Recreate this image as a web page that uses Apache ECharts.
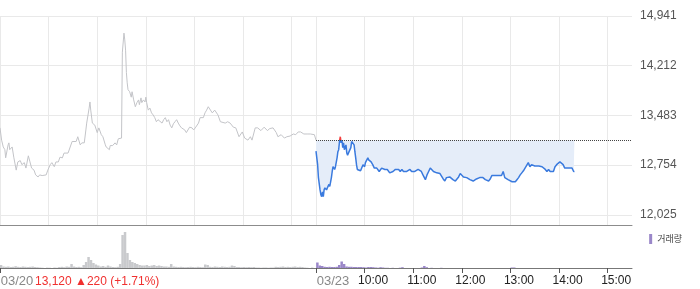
<!DOCTYPE html>
<html>
<head>
<meta charset="utf-8">
<script src="https://cdn.jsdelivr.net/npm/echarts@6/dist/echarts.min.js"></script>
<style>
html,body{margin:0;padding:0;background:#fff;}
#chart{width:700px;height:289px;}
</style>
</head>
<body>
<div id="chart"></div>
<script>
// minutes since 09:00 of each session, price (KRW)
const prevClose = 13120;
const yTicks = [12025, 12754, 13483, 14212, 14941];
const sessionLen = 390; // 09:00-15:30
const day1Label = '03/20';
const day2Label = '03/23';
const hourLabels = ['10:00', '11:00', '12:00', '13:00', '14:00', '15:00'];
const infoText = '13,120 \u25B2220 (+1.71%)';

const day1 = [[0,13300],[2,13120],[4,13020],[6,12980],[7,12860],[10,13050],[11,13080],[12,12980],[15,13020],[17,12870],[20,12680],[22,12800],[25,12820],[27,12760],[30,12790],[32,12710],[35,12890],[37,12800],[39,12710],[42,12680],[44,12610],[47,12580],[49,12610],[52,12600],[54,12600],[57,12610],[59,12680],[62,12760],[64,12790],[67,12730],[69,12800],[72,12800],[74,12870],[77,12860],[79,12930],[81,12930],[84,12930],[86,12950],[89,13100],[91,13080],[94,13100],[96,13170],[99,13050],[101,13080],[104,13080],[106,13270],[107,13370],[110,13590],[111,13680],[112,13560],[114,13370],[115,13390],[117,13340],[120,13230],[122,13300],[123,13310],[125,13200],[127,13170],[130,13050],[131,13020],[132,13010],[135,12980],[136,13040],[138,13050],[139,13040],[142,13080],[144,13050],[146,13140],[148,13120],[150,13150],[151,14410],[153,14690],[154,14590],[155,14440],[156,14110],[157,13960],[158,13860],[160,13830],[162,13750],[163,13830],[165,13710],[167,13610],[169,13670],[171,13710],[172,13640],[174,13740],[175,13670],[177,13710],[179,13680],[180,13750],[181,13670],[183,13560],[185,13590],[187,13520],[189,13490],[191,13450],[193,13390],[195,13420],[197,13420],[200,13370],[202,13420],[204,13450],[206,13390],[208,13420],[210,13340],[212,13300],[214,13360],[216,13390],[218,13420],[220,13370],[222,13330],[224,13300],[226,13310],[228,13270],[230,13230],[232,13240],[234,13310],[237,13300],[239,13270],[241,13300],[243,13310],[245,13370],[247,13450],[249,13460],[251,13450],[253,13520],[255,13560],[257,13610],[259,13620],[262,13520],[265,13560],[269,13490],[272,13390],[274,13400],[278,13370],[281,13390],[284,13370],[288,13310],[291,13300],[295,13170],[299,13240],[302,13150],[306,13120],[309,13170],[311,13120],[315,13300],[318,13300],[322,13260],[326,13310],[330,13260],[333,13290],[337,13300],[341,13230],[343,13170],[347,13200],[351,13150],[354,13170],[358,13180],[362,13210],[365,13200],[368,13240],[371,13240],[375,13210],[379,13210],[383,13210],[388,13200],[390,13120]];

const day2 = [[0,12960],[2,12760],[3,12570],[5,12390],[6,12320],[7,12290],[8,12360],[9,12290],[10,12390],[11,12420],[13,12390],[14,12420],[16,12470],[17,12440],[19,12570],[20,12660],[21,12730],[23,12690],[24,12730],[26,12860],[27,12950],[28,12980],[29,13100],[30,13170],[31,13080],[32,13120],[33,13010],[34,13080],[35,12980],[37,13050],[38,12930],[39,12900],[40,12930],[42,12920],[43,13010],[44,13100],[45,13120],[47,13050],[48,12950],[49,12860],[50,12760],[51,12690],[53,12670],[55,12670],[56,12670],[58,12760],[60,12730],[61,12790],[63,12800],[64,12860],[65,12830],[67,12850],[68,12800],[70,12760],[72,12710],[73,12730],[75,12710],[77,12700],[78,12660],[80,12660],[81,12710],[83,12710],[85,12690],[86,12670],[88,12690],[90,12710],[91,12640],[93,12640],[95,12660],[98,12690],[100,12710],[102,12690],[104,12660],[106,12690],[108,12660],[110,12640],[112,12660],[114,12660],[116,12690],[118,12660],[120,12670],[122,12660],[124,12660],[126,12690],[128,12710],[130,12660],[132,12610],[135,12540],[137,12610],[139,12660],[141,12710],[143,12710],[145,12660],[147,12640],[149,12640],[151,12630],[153,12630],[155,12610],[157,12550],[159,12520],[161,12570],[163,12570],[165,12580],[167,12570],[169,12540],[172,12520],[174,12540],[176,12580],[178,12630],[180,12610],[182,12580],[184,12570],[186,12570],[188,12550],[190,12540],[192,12540],[194,12520],[196,12540],[198,12550],[200,12540],[202,12570],[204,12550],[206,12570],[209,12540],[211,12550],[213,12520],[215,12550],[217,12600],[219,12580],[221,12600],[223,12580],[225,12600],[227,12580],[229,12600],[231,12660],[233,12570],[235,12570],[237,12540],[239,12540],[242,12510],[244,12490],[246,12510],[248,12540],[250,12570],[252,12610],[254,12640],[256,12670],[258,12710],[260,12730],[262,12790],[263,12800],[264,12730],[266,12760],[268,12740],[270,12740],[272,12760],[275,12740],[277,12760],[279,12730],[281,12710],[283,12690],[285,12660],[287,12690],[289,12660],[291,12670],[293,12660],[295,12730],[297,12760],[299,12770],[301,12800],[303,12790],[305,12760],[307,12710],[309,12730],[312,12710],[314,12710],[316,12710],[318,12660],[319,12660]];

// volume in thousand shares, 3-minute buckets
const volStep = 3;
const day1Vol = [40,30,15,12,15,10,12,18,12,10,15,12,10,12,15,10,8,5,3,0,4,3,0,5,3,10,12,8,15,12,40,15,10,12,8,30,60,110,80,50,35,25,15,20,12,25,15,10,8,12,40,330,360,150,80,60,50,40,30,25,25,30,20,25,30,20,25,20,15,15,12,40,15,12,10,12,10,8,10,12,10,8,12,10,8,35,30,12,10,15,12,10,15,12,10,12,25,20,10,10,8,10,8,10,8,10,5,5,3,5,5,3,5,5,12,10,12,15,10,12,10,12,15,10,12,10,5,3,0,5];
const day2Vol = [55,25,20,12,10,12,10,10,12,30,65,40,15,12,12,10,10,10,10,8,5,10,10,8,5,3,8,5,2,2,0,2,0,0,3,8,0,0,0,0,0,0,0,5,20,8,0,2,0,0,0,2,0,0,0,0,0,0,0,0,0,0,0,0,0,0,0,0,0,0,0,0,0,0,0,0,0,0,0,0,5,5,0,0,0,0,0,0,0,0,0,0,0,0,0,0,0,0,0,0,0,0,0,0,0,0,0];

const fmt = v => v.toLocaleString('en-US');
const hourTicks = [];
for (let m = 0; m < sessionLen; m += 60) hourTicks.push(m);
for (let m = 0; m < sessionLen; m += 60) hourTicks.push(sessionLen + m);
const bottomTicks = [0, sessionLen].concat(hourLabels.map((_, i) => sessionLen + 60 * (i + 1)));

const chart = echarts.init(document.getElementById('chart'), null, {renderer: 'canvas'});
const FONT = '"Liberation Sans", Arial, "Noto Sans CJK KR", sans-serif';

chart.setOption({
  animation: false,
  textStyle: {fontFamily: FONT},
  grid: [
    {left: 0, right: 68, top: 16, height: 209, outerBoundsMode: 'none'},
    {left: 0, right: 68, top: 226, height: 42, outerBoundsMode: 'none'}
  ],
  legend: {
    data: ['거래량'], right: 13, top: 229, icon: 'rect', itemWidth: 3, itemHeight: 10,
    itemGap: 0, selectedMode: false,
    textStyle: {color: '#444', fontSize: 9, fontFamily: '"Noto Sans CJK KR", sans-serif'}
  },
  visualMap: {
    show: false, type: 'piecewise', seriesIndex: 1, dimension: 1,
    pieces: [{gt: prevClose, lte: 20000, color: '#f23c3c'}, {gte: 5000, lte: prevClose, color: '#3a7ade'}]
  },
  xAxis: [
    {
      type: 'value', gridIndex: 0, min: 0, max: sessionLen * 2,
      axisLabel: {show: false},
      axisTick: {show: false, customValues: hourTicks},
      axisLine: {show: true, lineStyle: {color: '#8c8c8c', width: 1}},
      splitLine: {show: true, lineStyle: {color: '#e9e9e9', width: 1}}
    },
    {
      type: 'value', gridIndex: 1, min: 0, max: sessionLen * 2,
      axisLine: {show: true, lineStyle: {color: '#777', width: 1}},
      axisTick: {show: true, length: 5, customValues: bottomTicks, lineStyle: {color: '#555'}},
      splitLine: {show: false},
      axisLabel: {
        show: true, margin: 7, customValues: bottomTicks, align: 'center',
        formatter: v => {
          if (v === 0) return '{d|' + day1Label + '}';
          if (v === sessionLen) return '{d|' + day2Label + '}';
          return '{t|' + hourLabels[(v - sessionLen) / 60 - 1] + '}';
        },
        rich: {
          d: {color: '#888', fontSize: 13, padding: [0, 0, 0, 34], fontFamily: FONT},
          t: {color: '#222', fontSize: 12, padding: [0, 0, 0, 17], fontFamily: FONT}
        }
      }
    }
  ],
  yAxis: [
    {
      type: 'value', gridIndex: 0, position: 'right', min: 11875, max: 14941,
      axisLine: {show: false},
      axisTick: {show: false, customValues: yTicks},
      axisLabel: {customValues: yTicks, formatter: fmt, color: '#555', fontSize: 12, margin: 8},
      splitLine: {show: true, lineStyle: {color: '#e9e9e9', width: 1}}
    },
    {
      type: 'value', gridIndex: 1, min: 0, max: 420, show: false,
      splitLine: {show: false}
    }
  ],
  graphic: [{
    type: 'text', left: 35, top: 276,
    style: {text: infoText, fill: '#f0302f', font: '12px "Liberation Sans", Arial, sans-serif'}
  }],
  series: [
    {
      type: 'line', name: day1Label, xAxisIndex: 0, yAxisIndex: 0, data: day1,
      showSymbol: false, silent: true,
      lineStyle: {color: '#c3c4c8', width: 1}
    },
    {
      type: 'line', name: day2Label, xAxisIndex: 0, yAxisIndex: 0,
      data: day2.map(d => [d[0] + sessionLen, d[1]]),
      showSymbol: false, silent: true,
      lineStyle: {width: 1.5},
      areaStyle: {color: '#e5edf9', opacity: 1, origin: prevClose},
      markLine: {
        silent: true, symbol: 'none', label: {show: false},
        lineStyle: {type: 'dotted', color: '#444', width: 1},
        data: [[{coord: [sessionLen, prevClose]}, {coord: [sessionLen * 2, prevClose]}]]
      }
    },
    {
      type: 'bar', name: 'vol1', xAxisIndex: 1, yAxisIndex: 1,
      data: day1Vol.map((v, i) => [i * volStep, v]),
      barWidth: 2.5, itemStyle: {color: '#c9cacd'}, silent: true
    },
    {
      type: 'bar', name: '거래량', xAxisIndex: 1, yAxisIndex: 1,
      data: day2Vol.map((v, i) => [sessionLen + i * volStep, v]),
      barWidth: 2.5, itemStyle: {color: '#9a87c9'}, silent: true
    }
  ]
});
</script>
</body>
</html>
